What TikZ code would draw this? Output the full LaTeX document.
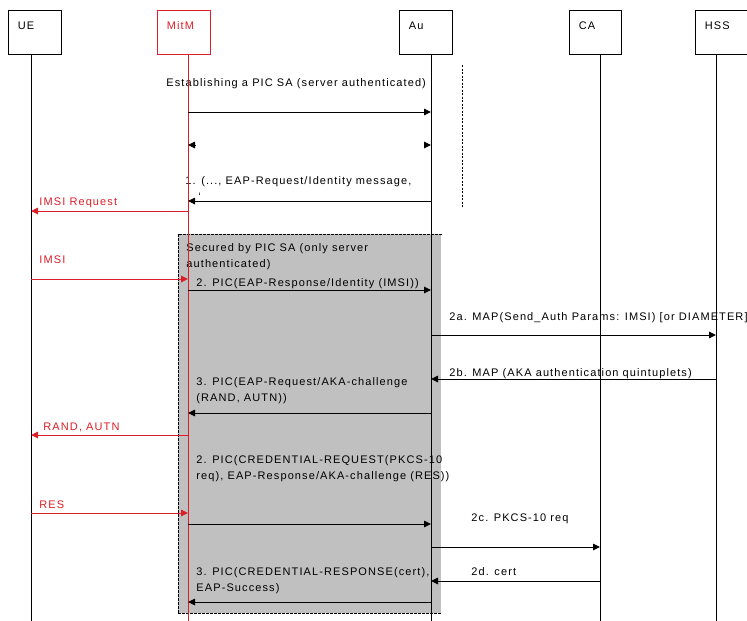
\documentclass[tikz,border=0pt]{standalone}
\usepackage{fontspec}
\setmainfont[LetterSpace=10]{Liberation Sans}
\usetikzlibrary{arrows.meta,calc}
\definecolor{mitmred}{RGB}{220,30,40}
\definecolor{secgray}{RGB}{192,192,192}
\begin{document}
\begin{tikzpicture}[x=1pt,y=-1pt,line width=0.9pt,
  actor/.style={draw, anchor=north west, inner xsep=9.5pt, inner ysep=0pt,
    text width=34pt, align=left, text height=19pt, text depth=25pt,
    font=\fontsize{11}{13}\selectfont},
  lbl/.style={anchor=base west, inner sep=0pt, align=left,
    font=\fontsize{11}{16}\selectfont},
  rlbl/.style={lbl, text=mitmred},
  msg/.style={-{Triangle[length=7pt,width=6.5pt]}},
  rmsg/.style={msg, draw=mitmred, color=mitmred},
  lifeline/.style={draw=black},
  secborder/.style={dash pattern=on 2.5pt off 1.5pt},
  sepline/.style={dash pattern=on 2pt off 1.5pt}]
\useasboundingbox (0,0) rectangle (747,621);

% secured region
\node[fill=secgray, anchor=north west, inner sep=0pt, minimum width=263pt,
  minimum height=379pt] (sec) at (178,234) {};
\draw[secborder] (sec.north east) -- (sec.north west) -- (sec.south west) -- (sec.south east);

% actors
\node[actor] (ue) at (8,10) {UE};
\node[actor, draw=mitmred, text=mitmred] (mitm) at (157,10) {MitM};
\node[actor] (au) at (399,10) {Au};
\node[actor, text width=33pt] (ca) at (569,10) {CA};
\node[actor, text width=36pt] (hss) at (695,10) {HSS};

% lifeline x positions
\coordinate (xue) at (31,0);
\coordinate (xm) at (188,0);
\coordinate (xau) at (431,0);
\coordinate (xca) at (600,0);
\coordinate (xhss) at (716,0);
\coordinate (bot) at (0,621);

% labels (multi-line labels are placed by the baseline of their last line)
\node[lbl] (t0) at (166,86) {Establishing a PIC SA (server authenticated)};
\node[lbl] (t1) at (185,200) {1. (..., EAP-Request/Identity message,\\\hspace{13pt}\char"60};
\node[rlbl] (t2) at (39,205) {IMSI Request};
\node[lbl] (t3) at (186,267) {Secured by PIC SA (only server\\authenticated)};
\node[rlbl] (t4) at (39,263) {IMSI};
\node[lbl] (t5) at (196,286) {2. PIC(EAP-Response/Identity (IMSI))};
\node[lbl] (t6) at (449,320) {2a. MAP(Send\_Auth Params: IMSI) [or DIAMETER]};
\node[lbl] (t7) at (449,376) {2b. MAP (AKA authentication quintuplets)};
\node[lbl] (t8) at (196,401) {3. PIC(EAP-Request/AKA-challenge\\(RAND, AUTN))};
\node[rlbl] (t9) at (43,430) {RAND, AUTN};
\node[lbl] (t10) at (196,479) {2. PIC(CREDENTIAL-REQUEST(PKCS-10\\req), EAP-Response/AKA-challenge (RES))};
\node[rlbl] (t11) at (39,508) {RES};
\node[lbl] (t12) at (471,521) {2c. PKCS-10 req};
\node[lbl] (t13) at (196,591) {3. PIC(CREDENTIAL-RESPONSE(cert),\\EAP-Success)};
\node[lbl] (t14) at (471,575) {2d. cert};

% lifelines
\draw[lifeline] (xue |- ue.south) -- (xue |- bot);
\draw[lifeline, draw=mitmred] (xm |- mitm.south) -- (xm |- bot);
\draw[lifeline] (xau |- au.south) -- (xau |- bot);
\draw[lifeline] (xca |- ca.south) -- (xca |- bot);
\draw[lifeline] (xhss |- hss.south) -- (xhss |- bot);

% separator
\coordinate (sepa) at (462,65);
\coordinate (sepb) at (462,208);
\draw[sepline] (sepa) -- (sepb);

% messages
\draw[msg] (xm |- 0,112) -- (xau |- 0,112);
\draw[msg] ($(xm |- 0,145)+(7,0)$) -- (xm |- 0,145);
\draw[msg] ($(xau |- 0,145)+(-7,0)$) -- (xau |- 0,145);
\draw[msg] (xau |- 0,201) -- (xm |- 0,201);
\draw[rmsg] (xm |- 0,211) -- (xue |- 0,211);
\draw[rmsg] (xue |- 0,279) -- (xm |- 0,279);
\draw[msg] (xm |- 0,290) -- (xau |- 0,290);
\draw[msg] (xau |- 0,335) -- (xhss |- 0,335);
\draw[msg] (xhss |- 0,379) -- (xau |- 0,379);
\draw[msg] (xau |- 0,413) -- (xm |- 0,413);
\draw[rmsg] (xm |- 0,435) -- (xue |- 0,435);
\draw[rmsg] (xue |- 0,513) -- (xm |- 0,513);
\draw[msg] (xm |- 0,524) -- (xau |- 0,524);
\draw[msg] (xau |- 0,547) -- (xca |- 0,547);
\draw[msg] (xca |- 0,581) -- (xau |- 0,581);
\draw[msg] (xau |- 0,602) -- (xm |- 0,602);
\end{tikzpicture}
\end{document}
